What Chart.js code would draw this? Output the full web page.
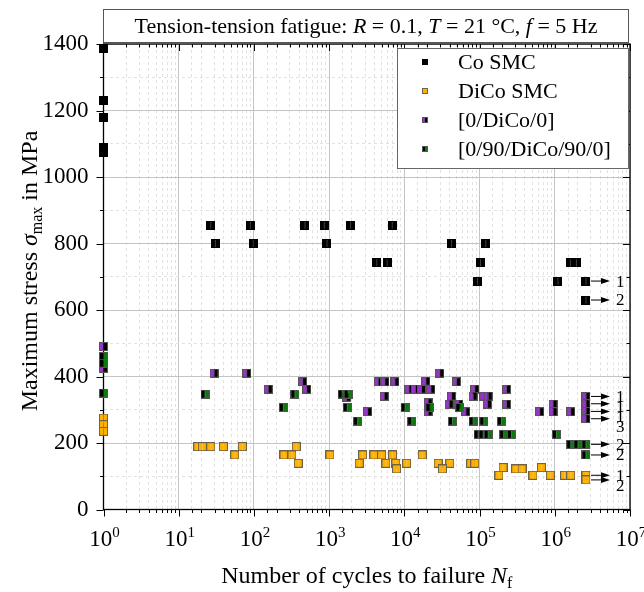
<!DOCTYPE html>
<html>
<head>
<meta charset="utf-8">
<script src="https://cdn.jsdelivr.net/npm/chart.js@4"></script>
<style>
    body { margin: 0; background: #fff; }
</style>
</head>
<body>
<canvas id="chart1" width="644" height="592"></canvas>
<script>
// cycles to failure (N) and max stress (MPa)
const coN = [1, 1, 1, 1, 1,
    26.7, 89.6, 477, 861, 1930, 6900,
    30.7, 98, 935, 42400, 120800,
    4300, 5900, 102700, 1.61e6, 1.94e6,
    93800, 1.10e6, 2.6e6,
    2.6e6];
const coS = [1385, 1230, 1180, 1090, 1075,
    855, 855, 855, 855, 855, 855,
    800, 800, 800, 800, 800,
    742, 742, 742, 742, 742,
    687, 687, 687,
    630];

const dicoN = [1, 1, 1,
    17.9, 20.6, 26.7, 39.3, 70.2, 366,
    55.6, 251, 320, 1025, 2790, 3940, 4980, 6970, 17300,
    389, 2510, 5680, 7710, 10700, 28100, 40200, 76400, 86300,
    7870, 32100, 302000, 367000,
    205000, 664000,
    181000, 513000, 873000, 1.35e6, 1.63e6, 2.6e6,
    2.6e6];
const dicoS = [275, 255, 235,
    189, 189, 189, 189, 189, 189,
    164, 164, 164, 164, 164, 164, 164, 164, 164,
    139, 139, 139, 139, 139, 139, 139, 139, 139,
    122, 122, 122, 122,
    126, 126,
    103, 103, 103, 103, 103, 103,
    89];

const lamN = [1, 1,
    29.5, 80.2, 155, 444, 503, 1700, 3250,
    4490, 5510, 7480, 5400, 11500, 14000, 16900, 19300, 22500, 29600,
    49300, 42400, 86300, 82000, 114000, 130000, 127000, 228000, 228000,
    39400, 52900, 20700, 20700, 65600, 631000, 947000, 947000, 1.63e6,
    2.6e6, 2.6e6, 2.6e6, 2.6e6];
const lamS = [490, 425,
    410, 410, 362, 384, 362, 338, 294,
    384, 384, 384, 341, 362, 362, 362, 386, 362, 410,
    384, 341, 362, 341, 341, 341, 317, 362, 317,
    317, 317, 321, 294, 294, 294, 317, 294, 294,
    340, 318, 295, 273];

const crossN = [1, 1, 1,
    22.4, 246, 351, 1490, 1790, 1740, 2390,
    10200, 12500, 21800, 54600, 43600, 82000, 114000, 195000,
    95500, 111000, 130000, 209000, 265000, 1.05e6,
    1.63e6, 2.03e6, 2.6e6, 2.6e6];
const crossS = [460, 440, 350,
    347, 307, 347, 347, 347, 307, 266,
    307, 266, 307, 307, 266, 266, 266, 266,
    226, 226, 226, 226, 226, 226,
    196, 196, 196, 164];

// run-outs (arrows with specimen counts)
const runN = [2.6e6, 2.6e6, 2.6e6, 2.6e6, 2.6e6, 2.6e6, 2.6e6, 2.6e6, 2.6e6, 2.6e6];
const runS = [687, 630, 340, 318, 295, 273, 196, 164, 103, 89];
const runLabel = ['1', '2', '1', '1', '1', '3', '2', '2', '1', '2'];

const yTicks = [0, 200, 400, 600, 800, 1000, 1200, 1400];
const xDecades = [0, 1, 2, 3, 4, 5, 6, 7];

const serif = '"Liberation Serif", "Times New Roman", serif';

var pts = function (xs, ys) {
    return xs.map(function (x, i) { return { x: x, y: ys[i] }; });
};

var makeMarker = function (left, right, edge, size) {
    var c = document.createElement('canvas');
    c.width = size;
    c.height = size;
    var g = c.getContext('2d');
    g.fillStyle = left;
    g.fillRect(0, 0, size / 2, size);
    g.fillStyle = right;
    g.fillRect(size / 2, 0, size - size / 2, size);
    g.strokeStyle = edge;
    g.lineWidth = 1;
    g.strokeRect(0.5, 0.5, size - 1, size - 1);
    return c;
};

const purple = '#9933cc';
const green = '#0a7a0a';
const orange = '#ffb000';

const markers = [
    makeMarker('#000', '#000', '#000', 9),
    makeMarker(orange, orange, '#6e6248', 9),
    makeMarker(purple, '#000', '#555', 9),
    makeMarker('#000', green, '#555', 9)
];
const legendMarkers = [
    makeMarker('#000', '#000', '#000', 6),
    makeMarker(orange, orange, '#6e6248', 6),
    makeMarker(purple, '#000', '#555', 6),
    makeMarker('#000', green, '#555', 6)
];

var isDecade = function (v) {
    var l = Math.log10(v);
    return Math.abs(l - Math.round(l)) < 1e-6;
};

// mixed-font line of text, centred on x
var richText = function (ctx, parts, x, y) {
    var total = 0;
    parts.forEach(function (p) {
        ctx.font = (p.italic ? 'italic ' : '') + p.size + 'px ' + serif;
        p.w = ctx.measureText(p.t).width;
        total += p.w;
    });
    var cx = x - total / 2;
    ctx.textAlign = 'left';
    ctx.textBaseline = 'alphabetic';
    parts.forEach(function (p) {
        ctx.font = (p.italic ? 'italic ' : '') + p.size + 'px ' + serif;
        ctx.fillText(p.t, cx, y + (p.dy || 0));
        cx += p.w;
    });
};

const axesPlugin = {
    id: 'axesPlugin',
    beforeDatasetsDraw(chart) {
        const ctx = chart.ctx;
        const a = chart.chartArea;
        const xs = chart.scales.x;
        const ys = chart.scales.y;
        ctx.save();
        ctx.strokeStyle = '#000';
        ctx.lineWidth = 1.3;
        ctx.strokeRect(a.left, a.top, a.right - a.left, a.bottom - a.top);
        ctx.lineWidth = 1;
        ctx.beginPath();
        xs.ticks.forEach(function (t) {
            var px = Math.round(xs.getPixelForValue(t.value)) + 0.5;
            var len = isDecade(t.value) ? 7 : 3.5;
            ctx.moveTo(px, a.bottom);
            ctx.lineTo(px, a.bottom + len);
            ctx.moveTo(px, a.top);
            ctx.lineTo(px, a.top + len);
        });
        ys.ticks.forEach(function (t) {
            var py = Math.round(ys.getPixelForValue(t.value)) + 0.5;
            var len = t.value % 200 === 0 ? 7 : 3.5;
            ctx.moveTo(a.left, py);
            ctx.lineTo(a.left - len, py);
            ctx.moveTo(a.right, py);
            ctx.lineTo(a.right - len, py);
        });
        ctx.stroke();
        ctx.restore();
    },
    afterDatasetsDraw(chart) {
        const ctx = chart.ctx;
        const a = chart.chartArea;
        const xs = chart.scales.x;
        const ys = chart.scales.y;
        ctx.save();
        ctx.fillStyle = '#000';

        // x tick labels 10^k
        xDecades.forEach(function (k) {
            var px = xs.getPixelForValue(Math.pow(10, k));
            richText(ctx, [
                { t: '10', size: 23 },
                { t: String(k), size: 15, dy: -9 }
            ], px + 1, 546);
        });

        // run-out arrows
        var lastY = -100;
        runN.forEach(function (n, i) {
            var px = xs.getPixelForValue(n) + 5;
            var py = ys.getPixelForValue(runS[i]);
            ctx.strokeStyle = '#000';
            ctx.lineWidth = 1;
            ctx.beginPath();
            ctx.moveTo(px, py);
            ctx.lineTo(px + 12, py);
            ctx.stroke();
            ctx.beginPath();
            ctx.moveTo(px + 10, py - 3);
            ctx.lineTo(px + 19, py);
            ctx.lineTo(px + 10, py + 3);
            ctx.closePath();
            ctx.fill();
            var ly = Math.max(py, lastY + 10);
            lastY = ly;
            ctx.font = '17px ' + serif;
            ctx.textAlign = 'left';
            ctx.textBaseline = 'middle';
            ctx.fillText(runLabel[i], px + 25, ly + 1);
        });

        // axis titles
        richText(ctx, [
            { t: 'Number of cycles to failure ', size: 24 },
            { t: 'N', size: 24, italic: true },
            { t: 'f', size: 16, dy: 5 }
        ], (a.left + a.right) / 2, 583);

        ctx.save();
        ctx.translate(37, 271);
        ctx.rotate(-Math.PI / 2);
        richText(ctx, [
            { t: 'Maximum stress ', size: 24 },
            { t: '\u03c3', size: 24, italic: true },
            { t: 'max', size: 16, dy: 5 },
            { t: ' in MPa', size: 24 }
        ], 0, 0);
        ctx.restore();

        // title box
        ctx.fillStyle = '#fff';
        ctx.fillRect(103.5, 9, 525, 33);
        ctx.strokeStyle = '#555';
        ctx.lineWidth = 1;
        ctx.strokeRect(103.5, 9.5, 525, 33);
        ctx.fillStyle = '#000';
        richText(ctx, [
            { t: 'Tension-tension fatigue: ', size: 22 },
            { t: 'R', size: 22, italic: true },
            { t: ' = 0.1, ', size: 22 },
            { t: 'T', size: 22, italic: true },
            { t: ' = 21 \u00b0C, ', size: 22 },
            { t: 'f', size: 22, italic: true },
            { t: ' = 5 Hz', size: 22 }
        ], 366, 33);

        // legend
        var lx = 397.5, ly0 = 48.5, lw = 231, lh = 120;
        ctx.fillStyle = '#fff';
        ctx.fillRect(lx, ly0, lw, lh);
        ctx.strokeStyle = '#666';
        ctx.strokeRect(lx, ly0, lw, lh);
        ctx.fillStyle = '#000';
        ctx.font = '22px ' + serif;
        ctx.textAlign = 'left';
        ctx.textBaseline = 'middle';
        chart.data.datasets.forEach(function (ds, i) {
            var ry = 62 + i * 29;
            var m = legendMarkers[i];
            ctx.drawImage(m, 425 - m.width / 2, ry - m.height / 2);
            ctx.fillText(ds.label, 458, ry + 1);
        });
        ctx.restore();
    }
};

const gridColor = '#c4c4c4';
const minorColor = '#e2e2e2';

const config = {
    type: 'scatter',
    data: {
        datasets: [{
            label: 'Co SMC',
            data: pts(coN, coS),
            pointStyle: markers[0],
            order: 4,
            clip: false
        }, {
            label: 'DiCo SMC',
            data: pts(dicoN, dicoS),
            pointStyle: markers[1],
            order: 3,
            clip: false
        }, {
            label: '[0/DiCo/0]',
            data: pts(lamN, lamS),
            pointStyle: markers[2],
            order: 2,
            clip: false
        }, {
            label: '[0/90/DiCo/90/0]',
            data: pts(crossN, crossS),
            pointStyle: markers[3],
            order: 1,
            clip: false
        }]
    },
    options: {
        responsive: false,
        animation: false,
        devicePixelRatio: 1,
        layout: {
            padding: { left: 0, top: 44, right: 14, bottom: 0 }
        },
        plugins: {
            legend: { display: false },
            tooltip: { enabled: false },
            title: { display: false }
        },
        scales: {
            x: {
                type: 'logarithmic',
                min: 1,
                max: 1e7,
                afterFit: function (scale) { scale.height = 82.5; },
                ticks: { display: false, autoSkip: false },
                grid: {
                    drawTicks: false,
                    lineWidth: 1,
                    color: function (ctx) {
                        return ctx.tick && isDecade(ctx.tick.value) ? gridColor : minorColor;
                    }
                },
                border: {
                    display: false,
                    dash: function (ctx) {
                        return ctx.tick && !isDecade(ctx.tick.value) ? [3, 3] : [];
                    }
                }
            },
            y: {
                min: 0,
                max: 1400,
                afterFit: function (scale) { scale.width = 103.5; },
                ticks: {
                    stepSize: 100,
                    autoSkip: false,
                    padding: 15,
                    color: '#000',
                    font: { family: serif, size: 23 },
                    callback: function (v) { return yTicks.indexOf(v) >= 0 ? v : ''; }
                },
                grid: {
                    drawTicks: false,
                    lineWidth: 1,
                    color: function (ctx) {
                        return ctx.tick && ctx.tick.value % 200 === 0 ? gridColor : minorColor;
                    }
                },
                border: {
                    display: false,
                    dash: function (ctx) {
                        return ctx.tick && ctx.tick.value % 200 !== 0 ? [3, 3] : [];
                    }
                }
            }
        }
    },
    plugins: [axesPlugin]
};

var chart1 = new Chart(
    document.getElementById('chart1'),
    config
);
</script>
</body>
</html>
